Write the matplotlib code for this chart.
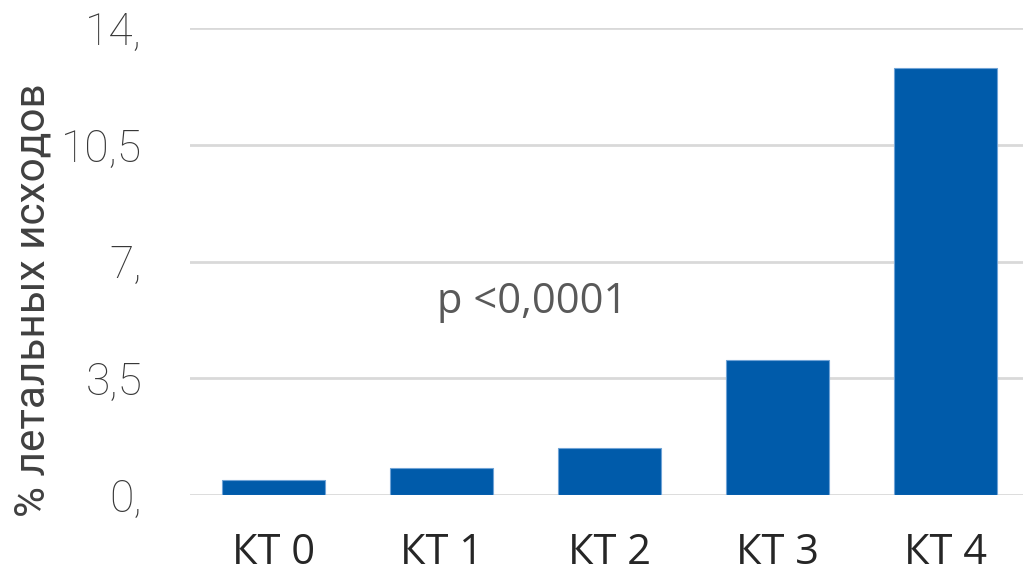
import matplotlib
matplotlib.use("Agg")
import matplotlib.pyplot as plt

categories = ["КТ 0", "КТ 1", "КТ 2", "КТ 3", "КТ 4"]
values = [0.45, 0.82, 1.41, 4.05, 12.79]
yticks = [0, 3.5, 7, 10.5, 14]
ytick_labels = ["0,", "3,5", "7,", "10,5", "14,"]
ylabel = "% летальных исходов"
annotation = "p <0,0001"

W, H = 1023, 576
fig = plt.figure(figsize=(W / 100, H / 100), dpi=100)
left = 189.5 / W
bottom = (H - 495) / H
top = (H - 28) / H
ax = fig.add_axes([left, bottom, 1 - left, top - bottom])

x = list(range(len(categories)))
ax.bar(x, values, width=0.613, color="#005BAA", edgecolor="#6FA3D6", linewidth=0.8, zorder=3)

ax.set_xlim(-0.5, 4.5 - 6.5 / 168)
ax.set_ylim(0, 14)
ax.set_yticks(yticks)
ax.set_yticklabels(ytick_labels, fontfamily="Roboto", fontweight="light", fontsize=32, color="#383838")
ax.set_xticks(x)
ax.set_xticklabels(categories, fontfamily="Open Sans", fontsize=30, color="#262626")
ax.tick_params(axis="both", length=0)
ax.tick_params(axis="y", pad=34)
ax.tick_params(axis="x", pad=27)
ax.grid(axis="y", color="#D9D9D9", linewidth=2, zorder=0)
for s in ax.spines.values():
    s.set_visible(False)

fig.text(33 / W, 1 - 300 / H, ylabel, rotation=90, ha="center", va="center",
         fontfamily="Roboto", fontsize=30.5, color="#404040")
ax.text(1.54, 5.79, annotation, ha="center", va="center", fontfamily="Open Sans",
        fontsize=30, color="#595959")

fig.savefig("out.png", dpi=100)
